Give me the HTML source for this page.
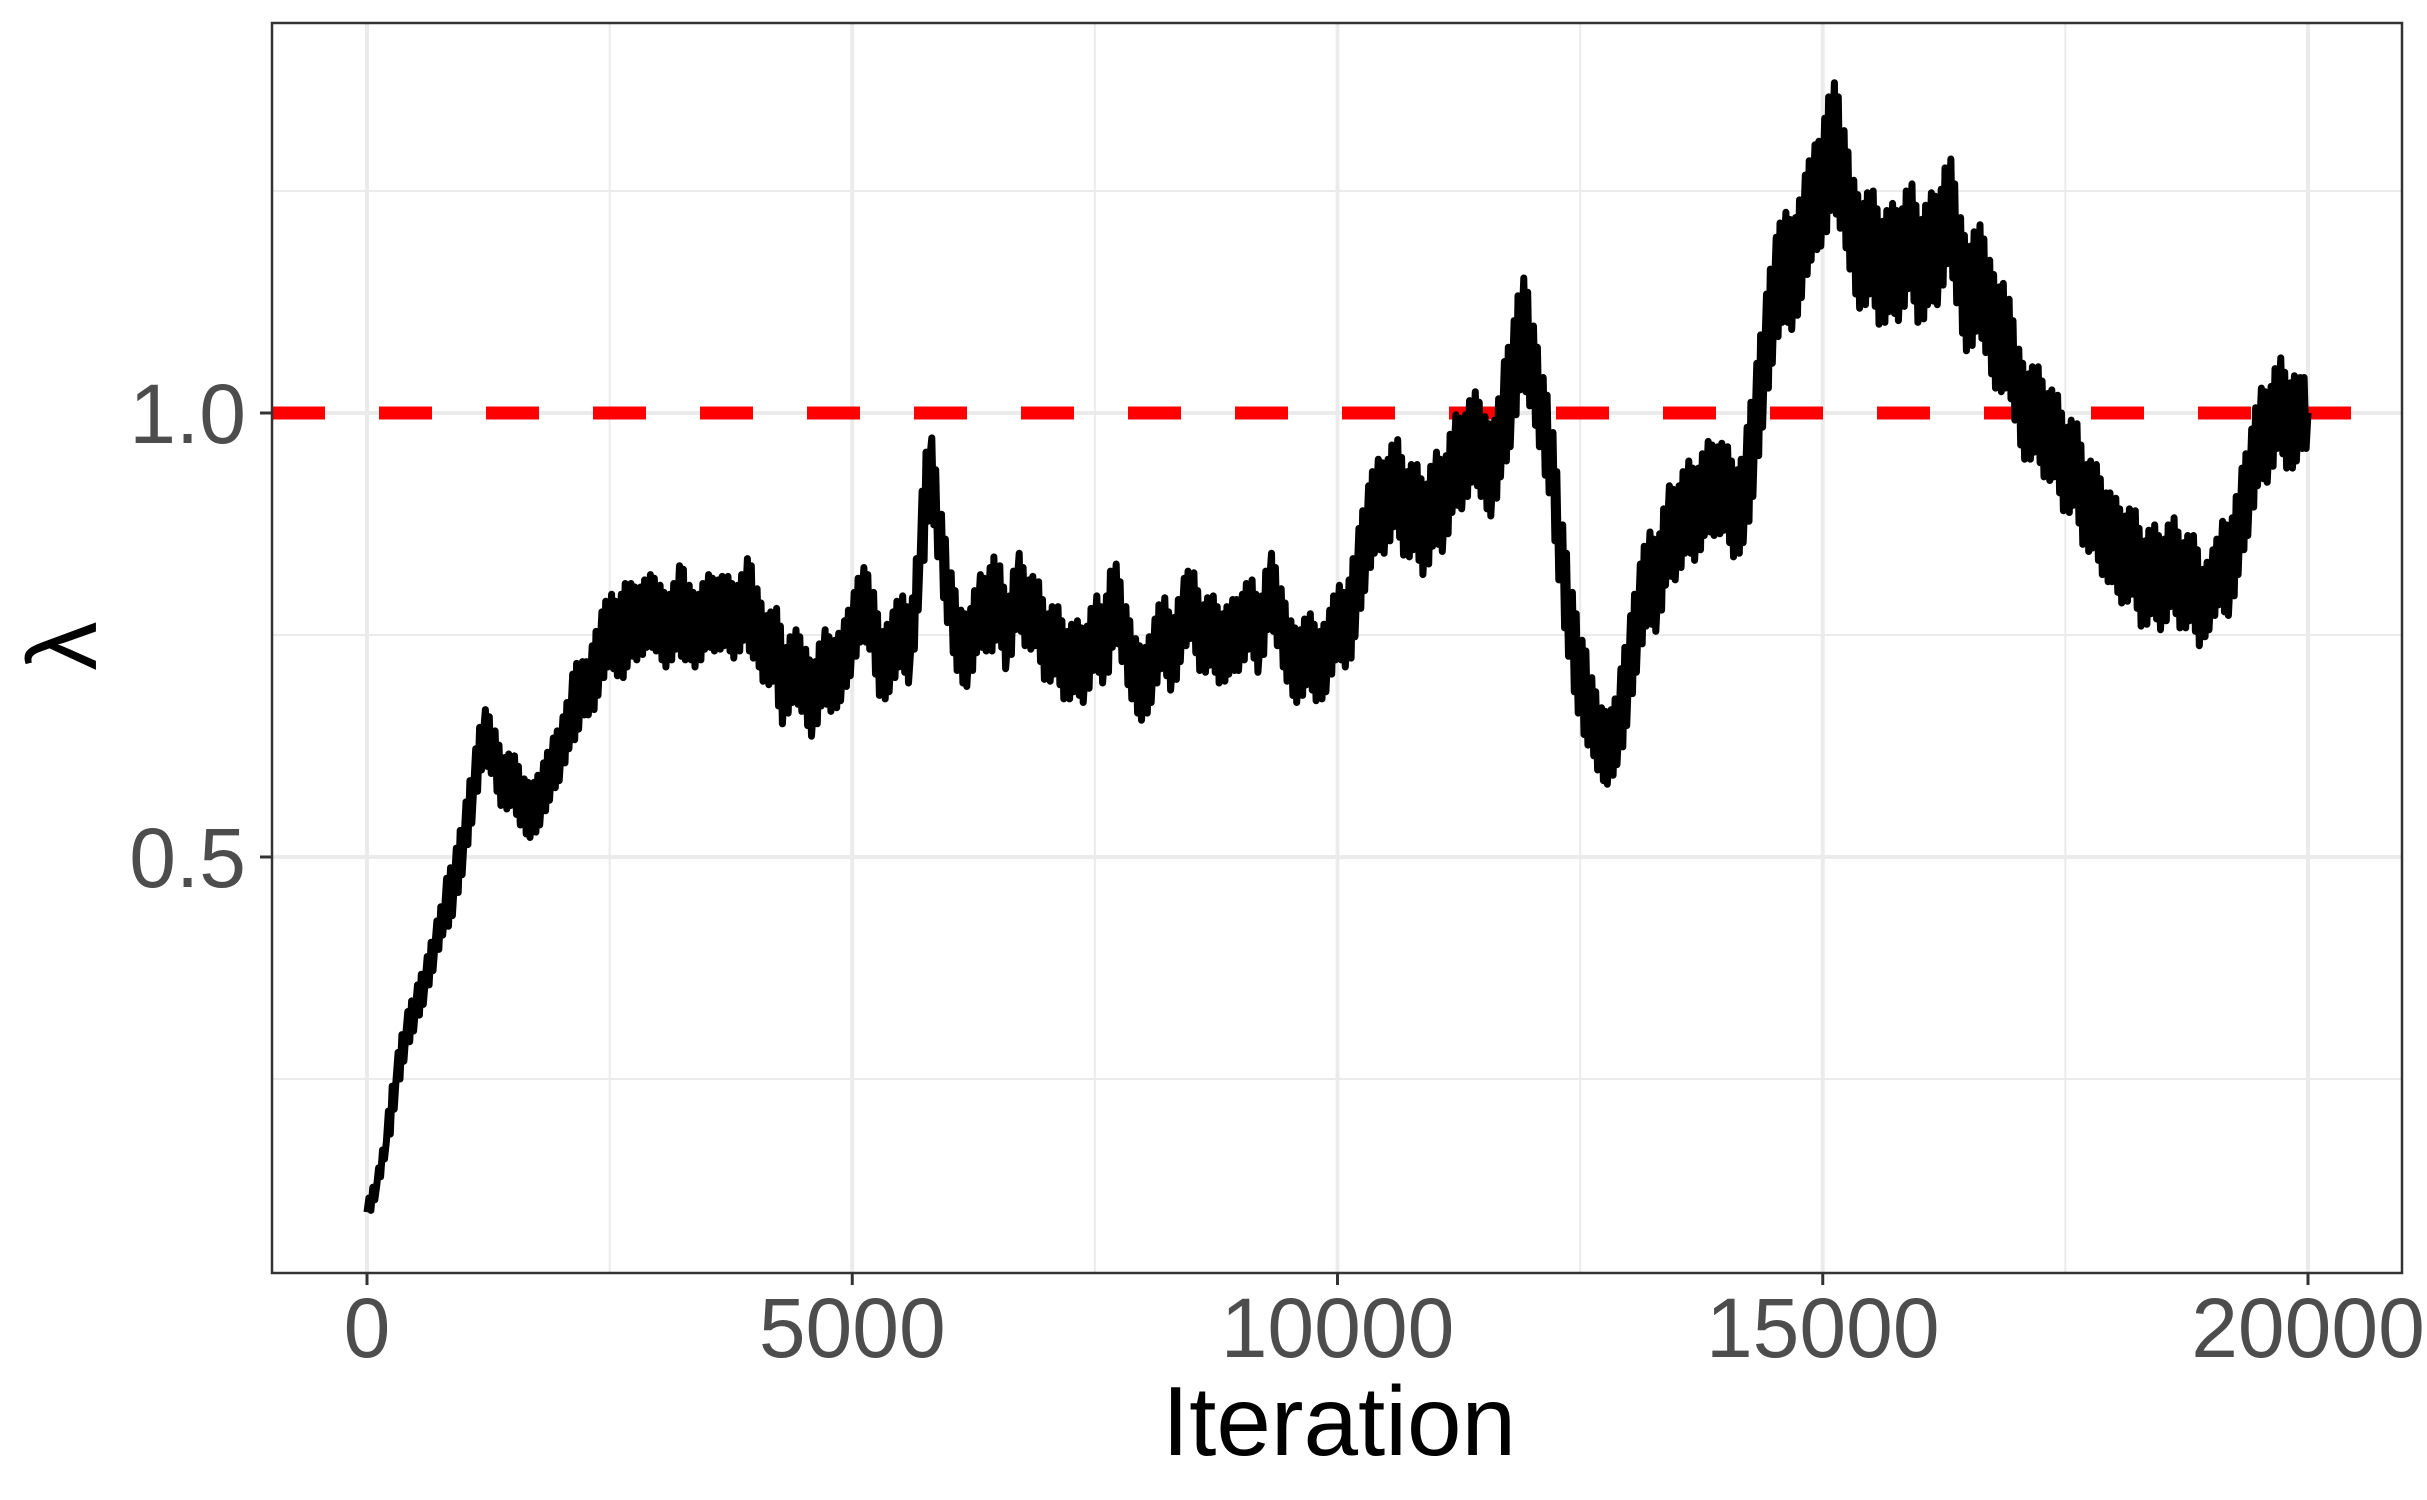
<!DOCTYPE html>
<html><head><meta charset="utf-8"><style>
html,body{margin:0;padding:0;background:#fff;}
svg{display:block;font-family:"Liberation Sans",Arial,sans-serif;}
</style></head><body>
<svg id="chart" width="2427" height="1500" viewBox="0 0 2427 1500">
<rect x="0" y="0" width="2427" height="1500" fill="#fff"/>
<g id="grid"></g>
<g id="ref"></g>
<g id="series"></g>
<rect x="272" y="23" width="2130" height="1250" fill="none" stroke="#333" stroke-width="2.5"/>
<g id="axes"></g>
<text x="1339" y="1455" font-size="98" text-anchor="middle" fill="#000">Iteration</text>
<text x="0" y="0" font-size="98" text-anchor="middle" fill="#000" transform="translate(96,646) rotate(-90)">λ</text>
</svg>
<script>
const xTicks = [0, 5000, 10000, 15000, 20000];
const xTickLabels = ["0", "5000", "10000", "15000", "20000"];
const xMinor = [2500, 7500, 12500, 17500];
const yTicks = [0.5, 1.0];
const yTickLabels = ["0.5", "1.0"];
const yMinor = [0.25, 0.75, 1.25];
const refValue = 1.0;
const step = 100;
const lambdaValues = [
0.10,0.13,0.18,0.25,0.30,0.33,0.36,0.40,0.44,0.47,
0.52,0.58,0.64,0.62,0.58,0.59,0.56,0.55,0.57,0.60,
0.62,0.66,0.69,0.69,0.73,0.76,0.74,0.77,0.76,0.78,
0.77,0.75,0.78,0.77,0.75,0.78,0.77,0.78,0.76,0.79,
0.77,0.73,0.74,0.69,0.72,0.70,0.67,0.72,0.70,0.72,
0.75,0.79,0.77,0.71,0.73,0.76,0.73,0.84,0.95,0.86,
0.79,0.74,0.73,0.78,0.77,0.80,0.74,0.81,0.77,0.78,
0.73,0.75,0.71,0.73,0.71,0.76,0.73,0.80,0.75,0.71,
0.69,0.72,0.76,0.72,0.77,0.79,0.74,0.76,0.73,0.75,
0.75,0.78,0.74,0.81,0.77,0.73,0.71,0.74,0.71,0.73,
0.77,0.75,0.81,0.86,0.90,0.89,0.93,0.88,0.90,0.86,
0.91,0.89,0.95,0.94,0.98,0.95,0.93,0.99,1.03,1.10,
1.06,1.00,0.95,0.84,0.76,0.70,0.67,0.63,0.62,0.65,
0.71,0.77,0.82,0.80,0.87,0.86,0.90,0.88,0.92,0.91,
0.92,0.88,0.91,0.98,1.06,1.13,1.17,1.15,1.20,1.24,
1.25,1.31,1.27,1.21,1.17,1.20,1.15,1.18,1.16,1.21,
1.15,1.19,1.18,1.24,1.17,1.12,1.16,1.12,1.08,1.09,
1.03,0.99,1.01,0.97,0.98,0.93,0.95,0.89,0.90,0.86,
0.86,0.83,0.85,0.80,0.83,0.80,0.84,0.80,0.82,0.78,
0.80,0.83,0.82,0.88,0.92,0.98,0.97,1.02,0.98,1.00,
1.00];
const lambdaSpread = [
0.01,0.01,0.01,0.02,0.02,0.02,0.02,0.02,0.02,0.03,
0.03,0.03,0.03,0.03,0.03,0.03,0.03,0.03,0.03,0.03,
0.03,0.03,0.04,0.03,0.04,0.04,0.04,0.05,0.04,0.04,
0.04,0.04,0.04,0.05,0.04,0.04,0.04,0.04,0.04,0.04,
0.05,0.04,0.04,0.05,0.04,0.04,0.04,0.04,0.04,0.04,
0.04,0.04,0.04,0.04,0.04,0.04,0.04,0.04,0.05,0.04,
0.04,0.04,0.04,0.04,0.04,0.05,0.04,0.04,0.04,0.04,
0.04,0.04,0.04,0.04,0.04,0.04,0.04,0.05,0.04,0.04,
0.04,0.04,0.04,0.04,0.04,0.04,0.04,0.04,0.04,0.04,
0.04,0.04,0.04,0.04,0.04,0.04,0.04,0.04,0.04,0.04,
0.04,0.04,0.05,0.05,0.05,0.05,0.05,0.05,0.05,0.05,
0.05,0.05,0.05,0.05,0.05,0.05,0.05,0.05,0.06,0.06,
0.06,0.05,0.05,0.05,0.05,0.05,0.05,0.04,0.04,0.04,
0.05,0.05,0.05,0.05,0.05,0.05,0.05,0.05,0.05,0.05,
0.05,0.05,0.05,0.06,0.06,0.06,0.06,0.06,0.06,0.06,
0.06,0.07,0.07,0.06,0.06,0.06,0.06,0.06,0.06,0.06,
0.06,0.06,0.06,0.06,0.06,0.06,0.06,0.06,0.06,0.06,
0.05,0.05,0.05,0.05,0.05,0.05,0.05,0.05,0.05,0.05,
0.05,0.05,0.05,0.05,0.05,0.05,0.05,0.05,0.05,0.05,
0.04,0.04,0.05,0.05,0.05,0.05,0.05,0.05,0.05,0.05,
0.04];

const NS = "http://www.w3.org/2000/svg";
const PL = 272, PR = 2402, PT = 23, PB = 1273;
function xs(v){ return 367 + (v - 0) * (2308 - 367) / 20000; }
function ys(v){ return 413 + (1.0 - v) * (857 - 413) / 0.5; }
function mk(tag, attrs, parent){ const e = document.createElementNS(NS, tag); for (const k in attrs) e.setAttribute(k, attrs[k]); parent.appendChild(e); return e; }
const grid = document.getElementById('grid'), axes = document.getElementById('axes');
xMinor.forEach(v => { const l = mk('line', {x1: xs(v), x2: xs(v), y1: PT, y2: PB, stroke: '#ebebeb', 'stroke-width': 2}, grid);

 });
yMinor.forEach(v => { const l = mk('line', {x1: PL, x2: PR, y1: ys(v), y2: ys(v), stroke: '#ebebeb', 'stroke-width': 2}, grid);

 });
xTicks.forEach((v, i) => {
  const g = mk('line', {x1: xs(v), x2: xs(v), y1: PT, y2: PB, stroke: '#ebebeb', 'stroke-width': 4}, grid);
  
  
  const t = mk('line', {x1: xs(v), x2: xs(v), y1: PB, y2: PB + 12, stroke: '#333', 'stroke-width': 3}, axes);
  
  
  const tx = mk('text', {x: xs(v), y: 1357, 'font-size': 84, 'text-anchor': 'middle', fill: '#4d4d4d'}, axes);
  tx.textContent = xTickLabels[i];
  
  
});
yTicks.forEach((v, i) => {
  const g = mk('line', {x1: PL, x2: PR, y1: ys(v), y2: ys(v), stroke: '#ebebeb', 'stroke-width': 4}, grid);
  
  
  const t = mk('line', {x1: PL - 12, x2: PL, y1: ys(v), y2: ys(v), stroke: '#333', 'stroke-width': 3}, axes);
  
  
  const tx = mk('text', {x: 246, y: ys(v) + 30, 'font-size': 84, 'text-anchor': 'end', fill: '#4d4d4d'}, axes);
  tx.textContent = yTickLabels[i];
  
  
});
const ref = mk('line', {x1: PL, x2: 2351, y1: ys(refValue), y2: ys(refValue), stroke: '#ff0000', 'stroke-width': 13, 'stroke-dasharray': '53 54'}, document.getElementById('ref'));


const series = document.getElementById('series');
let d = '';
lambdaValues.forEach((v, i) => {
  const s = lambdaSpread[i];
  const x0 = xs(i * step);
  if (i === 0) { d += 'M' + x0.toFixed(1) + ',' + ys(v).toFixed(1); return; }
  const xp = xs((i - 1) * step);
  const vp = lambdaValues[i - 1];
  for (let k = 1; k <= 4; k++) {
    const f = k / 5;
    const vm = vp + (v - vp) * f + (k % 2 ? s : -s);
    d += ' L' + (xp + (x0 - xp) * f).toFixed(1) + ',' + ys(vm).toFixed(1);
  }
  d += ' L' + x0.toFixed(1) + ',' + ys(v).toFixed(1);
});
const path = mk('path', {d: d, fill: 'none', stroke: '#000', 'stroke-width': 7, 'stroke-linejoin': 'round'}, series);


</script>
</body></html>
